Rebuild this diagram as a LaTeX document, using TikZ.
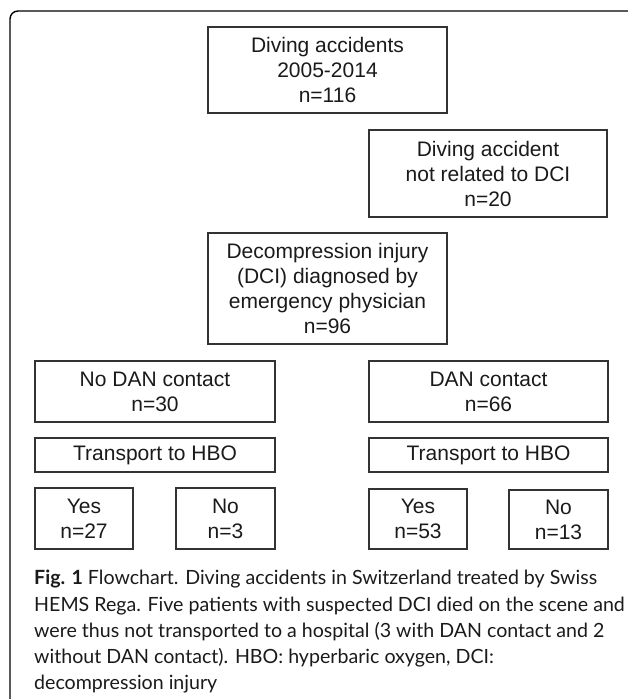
\documentclass[tikz,border=0pt]{standalone}
\usepackage{fontspec}
\setmainfont{Liberation Sans}
\newfontfamily\capfont{Lato}
\definecolor{boxline}{HTML}{333333}
\definecolor{ink}{HTML}{1A1A1A}
\begin{document}
\begin{tikzpicture}[x=1pt,y=-1pt,
  fbox/.style={draw=boxline,line width=1.1pt,inner sep=0pt,align=center,text=ink,
    font=\fontsize{21}{25}\selectfont},
  capline/.style={anchor=base west,inner sep=0pt,text=ink,font=\capfont\fontsize{19.6}{26.5}\selectfont}]
\useasboundingbox (0,0) rectangle (627,699);
\draw[line width=1.4pt,rounded corners=8pt] (628,11) -- (10,11) -- (10,700);
% boxes: centre, width, height
\node[fbox,minimum width=239pt,minimum height=86pt] (b1) at (327.5,70) {Diving accidents\\2005-2014\\n=116};
\node[fbox,minimum width=238pt,minimum height=87pt] (b2) at (488,173.5) {Diving accident\\not related to DCI\\n=20};
\node[fbox,minimum width=239pt,minimum height=111pt] (b3) at (327.5,288.5) {Decompression injury\\(DCI) diagnosed by\\emergency physician\\n=96};
\node[fbox,minimum width=240pt,minimum height=61pt] (nodan) at (155,391.5) {No DAN contact\\n=30};
\node[fbox,minimum width=239pt,minimum height=61pt] (dan) at (488.5,391.5) {DAN contact\\n=66};
\node[fbox,minimum width=240pt,minimum height=34pt] (tl) at (155,455) {Transport to HBO};
\node[fbox,minimum width=239pt,minimum height=34pt] (tr) at (488.5,455) {Transport to HBO};
\node[fbox,minimum width=98pt,minimum height=61pt] (yl) at (84,518.5) {Yes\\n=27};
\node[fbox,minimum width=99pt,minimum height=61pt] (nl) at (225.5,518.5) {No\\n=3};
\node[fbox,minimum width=98pt,minimum height=60pt] (yr) at (418,519) {Yes\\n=53};
\node[fbox,minimum width=99pt,minimum height=59pt] (nr) at (558.5,519.5) {No\\n=13};
% caption
\node[capline] (c1) at (34,584) {\textbf{Fig. 1} Flowchart. Diving accidents in Switzerland treated by Swiss};
\node[capline] (c2) at (34,611) {HEMS Rega. Five patients with suspected DCI died on the scene and};
\node[capline] (c3) at (34,637) {were thus not transported to a hospital (3 with DAN contact and 2};
\node[capline] (c4) at (34,663) {without DAN contact). HBO: hyperbaric oxygen, DCI:};
\node[capline] (c5) at (34,689) {decompression injury};
\end{tikzpicture}
\end{document}
